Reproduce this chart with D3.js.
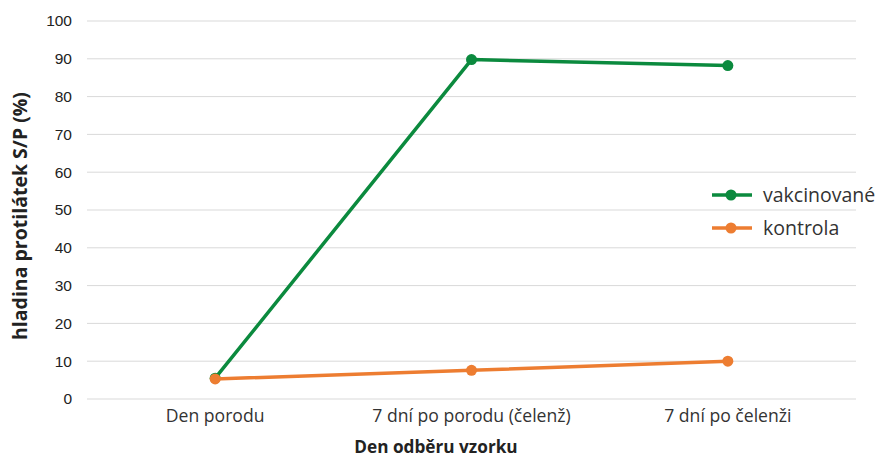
<!DOCTYPE html>
<html><head><meta charset="utf-8">
<script src="https://cdn.jsdelivr.net/npm/d3@7"></script>
<style>body{margin:0;background:#fff;} svg{display:block;}</style>
</head><body>
<script>
const categories = ["Den porodu", "7 dní po porodu (čelenž)", "7 dní po čelenži"];
const vakcinovane = [5.5, 89.8, 88.2];
const kontrola = [5.3, 7.6, 10.0];
const yTicks = [0,10,20,30,40,50,60,70,80,90,100];
const seriesNames = ["vakcinované", "kontrola"];
const colors = ["#0B8A3E", "#ED7D31"];

const W = 877, H = 457;
const m = {left: 87, right: 21, top: 21, bottom: 58};
const svg = d3.select("body").append("svg").attr("width", W).attr("height", H);

const x = d3.scaleBand().domain(categories).range([m.left, W - m.right]);
const y = d3.scaleLinear().domain([0, 100]).range([H - m.bottom, m.top]);

const txtFont = "'Open Sans', sans-serif";

// gridlines
svg.append("g").selectAll("line").data(yTicks).join("line")
  .attr("x1", m.left).attr("x2", W - m.right)
  .attr("y1", d => y(d)).attr("y2", d => y(d))
  .attr("stroke", "#d9d9d9").attr("stroke-width", 1);

// y axis
const yAxis = svg.append("g").attr("transform", `translate(${m.left},0)`)
  .call(d3.axisLeft(y).tickValues(yTicks).tickSize(0).tickPadding(15));
yAxis.select(".domain").remove();
yAxis.selectAll("text").attr("font-family", "'Liberation Sans', Arial, sans-serif")
  .attr("font-size", 15.5).attr("fill", "#222");

// x axis
const xAxis = svg.append("g").attr("transform", `translate(0,${H - m.bottom})`)
  .call(d3.axisBottom(x).tickSize(0).tickPadding(11));
xAxis.select(".domain").remove();
xAxis.selectAll("text").attr("font-family", txtFont)
  .attr("font-size", 17.6).attr("fill", "#333");

// axis titles
svg.append("text").attr("x", 436).attr("y", 453)
  .attr("text-anchor", "middle").attr("font-family", txtFont)
  .attr("font-weight", "bold").attr("font-size", 17.2).attr("fill", "#222")
  .text("Den odběru vzorku");
svg.append("text").attr("transform", `translate(27,216) rotate(-90)`)
  .attr("text-anchor", "middle").attr("font-family", txtFont)
  .attr("font-weight", "bold").attr("font-size", 19.5).attr("fill", "#222")
  .text("hladina protilátek S/P (%)");

const data = [vakcinovane, kontrola];
const line = d3.line().x((d, i) => x(categories[i]) + x.bandwidth()/2).y(d => y(d));

data.forEach((vals, si) => {
  const g = svg.append("g");
  g.append("path").datum(vals).attr("d", line).attr("fill", "none")
    .attr("stroke", colors[si]).attr("stroke-width", 3.5).attr("stroke-linejoin", "round");
  g.selectAll("circle").data(vals).join("circle")
    .attr("cx", (d, i) => x(categories[i]) + x.bandwidth()/2).attr("cy", d => y(d))
    .attr("r", 5.5).attr("fill", colors[si]);
});

// legend
const lg = svg.append("g");
const legY = [195, 228];
seriesNames.forEach((n, i) => {
  lg.append("rect").attr("x", 705).attr("y", legY[i]-14).attr("width", 152).attr("height", 28).attr("fill", "#fff");
  lg.append("line").attr("x1", 712).attr("x2", 752).attr("y1", legY[i]).attr("y2", legY[i])
    .attr("stroke", colors[i]).attr("stroke-width", 3.5);
  lg.append("circle").attr("cx", 731).attr("cy", legY[i]).attr("r", 5.5).attr("fill", colors[i]);
  lg.append("text").attr("x", 763).attr("y", legY[i]).attr("dy", "0.35em")
    .attr("font-family", txtFont).attr("font-size", 19.5).attr("fill", "#333").text(n);
});
</script>
</body></html>
